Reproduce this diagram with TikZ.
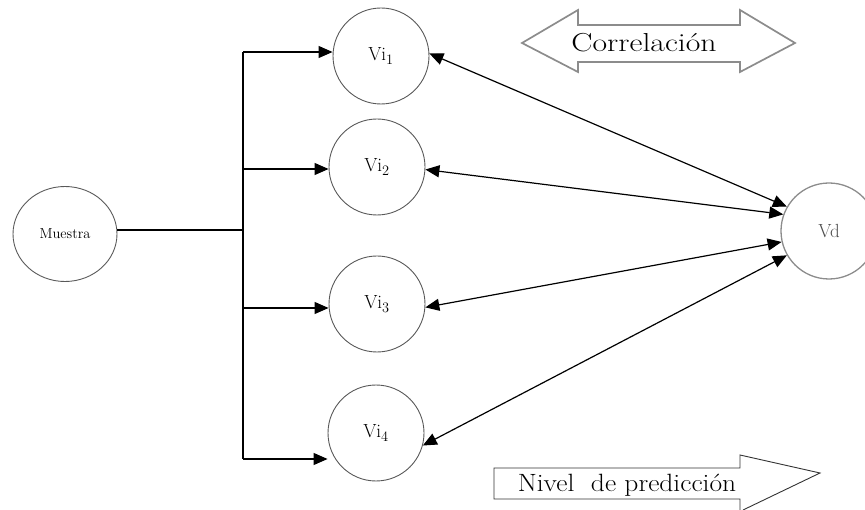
\documentclass[tikz,border=0pt]{standalone}
\usetikzlibrary{arrows.meta,shapes.geometric}
\begin{document}
\begin{tikzpicture}[x=1pt,y=-1pt,
  circ/.style={circle,draw=black!65,line width=0.9pt,minimum size=96pt,inner sep=0pt,font=\fontsize{19}{22}\selectfont},
  link/.style={line width=1.2pt,-{Triangle[length=14pt,width=12pt]}},
  dlink/.style={line width=1.2pt,{Triangle[length=14pt,width=12pt]}-{Triangle[length=14pt,width=12pt]}},
  plain/.style={line width=1.2pt},
  bigarrow/.style={draw=black!45,line width=1.7pt,line join=miter},
  flatarrow/.style={draw=black!80,line width=0.9pt,line join=miter}]
\useasboundingbox (0,0) rectangle (865,510);

% nodes
\node[ellipse,draw=black!65,line width=0.9pt,minimum width=104pt,minimum height=95pt,inner sep=0pt,font=\fontsize{14.5}{17}\selectfont] (m) at (65,234) {Muestra};
\node[circ] (v1) at (381,56) {Vi$_1$};
\node[circ] (v2) at (377,167) {Vi$_2$};
\node[circ] (v3) at (377,304) {Vi$_3$};
\node[circ] (v4) at (376,433) {Vi$_4$};
\node[circ,draw=black!45,line width=1.3pt,text=black!70] (vd) at (829,231) {Vd};

% bus
\coordinate (bt) at (243,52);
\coordinate (b2) at (243,169);
\coordinate (b3) at (243,308);
\coordinate (bb) at (243,459);
\coordinate (bm) at (243,230);
\coordinate (me) at (117,230);
\draw[plain] (bt) -- (bb);
\draw[plain] (me) -- (bm);
\draw[link] (bt) -- (bt -| v1.west);
\draw[link] (b2) -- (b2 -| v2.west);
\draw[link] (b3) -- (b3 -| v3.west);
\draw[link] (bb) -- (bb -| v4.west);

% correlations
\draw[dlink] (v1.3) -- (vd.150);
\draw[dlink] (v2.357) -- (vd.160);
\draw[dlink] (v3.356) -- (vd.193);
\draw[dlink] (v4.345) -- (vd.210);

% Correlacion block arrow
\draw[bigarrow] (522,43) -- (578,10) -- (578,25) -- (740,25) -- (740,10) -- (795,43) -- (740,72) -- (740,62) -- (578,62) -- (578,72) -- cycle;
\node[font=\fontsize{26}{30}\selectfont] (corr) at (644,43) {\scalebox{1.22}[1]{Correlación}};

% Nivel de prediccion arrow
\draw[flatarrow] (740,510) -- (740,499) -- (494,499) -- (494,468) -- (740,468) -- (740,455) -- (820,473) -- (743,510);
\node[font=\fontsize{25}{28}\selectfont,anchor=base] (niv) at (627,491) {\scalebox{1.1}[1]{Nivel\ \ de predicción}};
\end{tikzpicture}
\end{document}
